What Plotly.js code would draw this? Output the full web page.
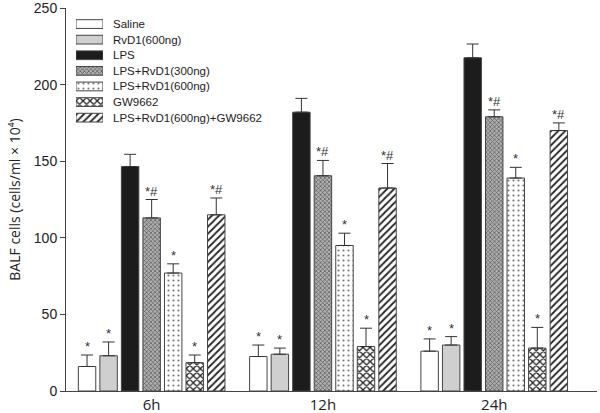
<!DOCTYPE html>
<html><head><meta charset="utf-8">
<script src="https://cdn.plot.ly/plotly-3.0.1.min.js"></script>
<style>html,body{margin:0;padding:0;background:#fff}#chart{width:600px;height:413px}</style>
</head><body><div id="chart"></div>
<script>
const timepoints = ["6h", "12h", "24h"];
const groups = ["Saline", "RvD1(600ng)", "LPS", "LPS+RvD1(300ng)", "LPS+RvD1(600ng)", "GW9662", "LPS+RvD1(600ng)+GW9662"];
const saline = [16, 22.5, 26];
const salineErr = [7.5, 7.5, 8];
const rvd1 = [23, 24, 30];
const rvd1Err = [9, 4, 5.5];
const lps = [146.5, 182, 217.5];
const lpsErr = [8, 9, 9];
const lpsRvd300 = [113, 140.5, 179];
const lpsRvd300Err = [12, 10, 4.5];
const lpsRvd600 = [77, 95, 139];
const lpsRvd600Err = [6, 8, 7];
const gw = [18.5, 29, 28];
const gwErr = [5, 12, 13.5];
const combo = [115, 132.5, 170];
const comboErr = [11, 16, 5];
const marks = [
  ["*", "*", "*"],
  ["*", "*", "*"],
  ["", "", ""],
  ["*#", "*#", "*#"],
  ["*", "*", "*"],
  ["*", "*", "*"],
  ["*#", "*#", "*#"]
];
const yTicks = [0, 50, 100, 150, 200, 250];

const values = [saline, rvd1, lps, lpsRvd300, lpsRvd600, gw, combo];
const errs = [salineErr, rvd1Err, lpsErr, lpsRvd300Err, lpsRvd600Err, gwErr, comboErr];

const styles = [
  {color: "#ffffff"},
  {color: "#cfcfcf"},
  {color: "#1c1c1c"},
  {color: "#9a9a9a", pattern: {shape: "x", fgcolor: "#555", bgcolor: "#b0b0b0", size: 3, solidity: 0.4}},
  {color: "#ffffff", pattern: {shape: ".", fgcolor: "#777", bgcolor: "#ffffff", size: 5, solidity: 0.15}},
  {color: "#ffffff", pattern: {shape: "x", fgcolor: "#222", bgcolor: "#ffffff", size: 5, solidity: 0.45}},
  {color: "#ffffff", pattern: {shape: "/", fgcolor: "#222", bgcolor: "#ffffff", size: 5, solidity: 0.35}}
];

const xIdx = timepoints.map((_, i) => i);
const bargap = 0.12;
const bargroupgap = 0.19;
const txtFont = "Liberation Sans, Arial, sans-serif";

function markerFor(j) {
  const m = {color: styles[j].color, line: {color: "#444", width: 1}};
  if (styles[j].pattern) m.pattern = Object.assign({fillmode: "replace"}, styles[j].pattern);
  return m;
}

const traces = groups.map((g, j) => ({
  type: "bar", name: g, x: xIdx, y: values[j],
  marker: markerFor(j),
  error_y: {type: "data", symmetric: false, array: errs[j], arrayminus: errs[j].map(() => 0),
            color: "#333", thickness: 1, width: 6},
  hoverinfo: "skip", showlegend: false
}));

// legend swatches: one bar per group in an inset axis
groups.forEach((g, j) => {
  traces.push({
    type: "bar", orientation: "h", x: [1], y: [g], width: 0.56,
    xaxis: "x2", yaxis: "y2", marker: markerFor(j), showlegend: false, hoverinfo: "skip"
  });
});

const slot = (1 - bargap) / groups.length;
const annotations = [];
groups.forEach((g, j) => {
  xIdx.forEach((xi, i) => {
    if (!marks[j][i]) return;
    annotations.push({
      x: xi - (1 - bargap) / 2 + (j + 0.5) * slot,
      y: values[j][i] + errs[j][i],
      xref: "x", yref: "y", text: marks[j][i], showarrow: false,
      yanchor: "bottom", yshift: -1,
      font: {family: txtFont, size: 13, color: "#333"}
    });
  });
  annotations.push({
    x: 0.0847, y: g, xref: "paper", yref: "y2", text: g, showarrow: false,
    xanchor: "left", yanchor: "middle",
    font: {family: txtFont, size: 11.5, color: "#222"}
  });
});

const layout = {
  width: 600, height: 413,
  margin: {l: 66, r: 3, t: 8, b: 22},
  paper_bgcolor: "#fff", plot_bgcolor: "rgba(0,0,0,0)",
  barmode: "group", bargap: bargap, bargroupgap: bargroupgap,
  showlegend: false,
  xaxis: {range: [-0.5, 2.6], tickvals: xIdx, ticktext: timepoints, showgrid: false, zeroline: false,
          showline: true, linecolor: "#444", linewidth: 1, ticks: "",
          tickfont: {family: "Open Sans, sans-serif", size: 15, color: "#222"}, fixedrange: true},
  yaxis: {range: [0, 250], tickvals: yTicks, showgrid: false, zeroline: false,
          showline: true, linecolor: "#444", linewidth: 1, ticks: "outside", ticklen: 5, tickcolor: "#444",
          ticklabeloverflow: "allow",
          tickfont: {family: txtFont, size: 14, color: "#222"},
          title: {text: "BALF cells (cells/ml × 10⁴)", standoff: 9,
                  font: {family: "Open Sans, sans-serif", size: 14, color: "#222"}}},
  xaxis2: {domain: [0.0188, 0.0697], range: [0, 1], anchor: "y2", visible: false, fixedrange: true},
  yaxis2: {domain: [0.6928, 0.9790], type: "category", categoryorder: "array", categoryarray: groups,
           autorange: "reversed", anchor: "x2", visible: false, fixedrange: true},
  annotations: annotations
};

Plotly.newPlot("chart", traces, layout, {staticPlot: true, displayModeBar: false});
</script></body></html>
